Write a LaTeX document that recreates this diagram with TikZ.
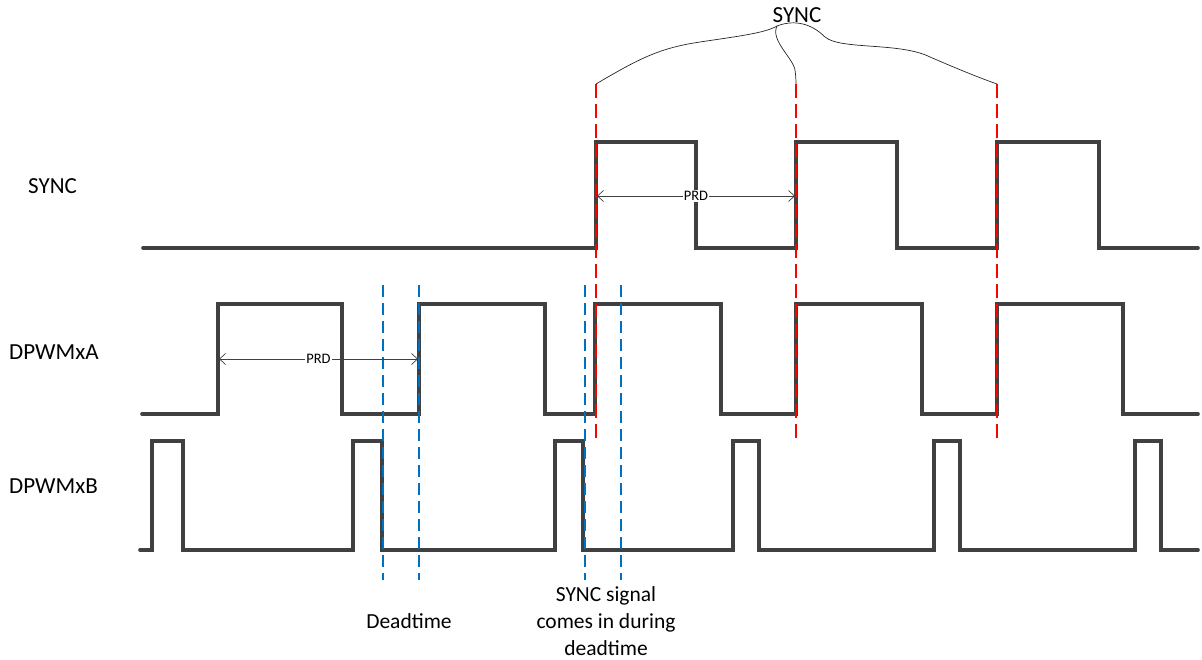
\documentclass[tikz,border=0pt]{standalone}
\usepackage{fontspec}
\setmainfont{Carlito}
\usetikzlibrary{arrows.meta}
\definecolor{wavecol}{HTML}{404040}
\definecolor{syncred}{HTML}{FF0000}
\definecolor{dtblue}{HTML}{0070C0}
\begin{document}
\begin{tikzpicture}[x=1pt,y=-1pt,
  wave/.style={draw=wavecol,line width=3.6pt,line join=miter,line cap=round},
  reddash/.style={draw=syncred,line width=1.6pt,dash pattern=on 14pt off 6pt},
  bluedash/.style={draw=dtblue,line width=1.6pt,dash pattern=on 12pt off 6pt},
  prdarrow/.style={draw=black!75,line width=0.7pt,{Straight Barb[length=6pt,width=11pt]}-{Straight Barb[length=6pt,width=11pt]}},
  prdlabel/.style={fill=white,inner sep=1pt,font=\fontsize{14.5}{16}\selectfont},
  siglabel/.style={anchor=west,inner sep=0pt,font=\fontsize{23}{27}\selectfont},
  note/.style={align=center,inner sep=0pt,font=\fontsize{21.5}{27}\selectfont},
  bracecurve/.style={draw=black!85,line width=0.7pt}]
\useasboundingbox (0,0) rectangle (1202,660);

% signal names
\node[siglabel] (lsync) at (28,186) {SYNC};
\node[siglabel] (lpwma) at (9,352) {DPWMxA};
\node[siglabel] (lpwmb) at (9,486) {DPWMxB};

% waveforms
\draw[wave] (143,248) -- (596,248) -- (596,142) -- (696,142) -- (696,248) -- (796,248) -- (796,142) -- (897,142) -- (897,248) -- (997,248) -- (997,142) -- (1099,142) -- (1099,248) -- (1198,248);
\draw[wave] (142,414) -- (218,414) -- (218,304) -- (342,304) -- (342,414) -- (419,414) -- (419,304) -- (545,304) -- (545,414) -- (595,414) -- (595,304) -- (721,304) -- (721,414) -- (796,414) -- (796,304) -- (922,304) -- (922,414) -- (997,414) -- (997,304) -- (1123,304) -- (1123,414) -- (1198,414);
\draw[wave] (140,550) -- (152,550) -- (152,441) -- (183,441) -- (183,550) -- (353,550) -- (353,441) -- (382,441) -- (382,550) -- (555,550) -- (555,441) -- (583,441) -- (583,550) -- (733,550) -- (733,441) -- (759,441) -- (759,550) -- (934,550) -- (934,441) -- (960,441) -- (960,550) -- (1135,550) -- (1135,441) -- (1161,441) -- (1161,550) -- (1198,550);

% SYNC markers (red)
\coordinate (r1t) at (596,84);  \coordinate (r1b) at (596,438);
\coordinate (r2t) at (796,84);  \coordinate (r2b) at (796,438);
\coordinate (r3t) at (997,84);  \coordinate (r3b) at (997,438);
\draw[reddash] (r1t) -- (r1b);
\draw[reddash] (r2t) -- (r2b);
\draw[reddash] (r3t) -- (r3b);

% deadtime markers (blue)
\coordinate (b1t) at (383,285); \coordinate (b1b) at (383,580);
\coordinate (b2t) at (419,285); \coordinate (b2b) at (419,580);
\coordinate (b3t) at (585,285); \coordinate (b3b) at (585,580);
\coordinate (b4t) at (621,285); \coordinate (b4b) at (621,580);
\draw[bluedash] (b1t) -- (b1b);
\draw[bluedash] (b2t) -- (b2b);
\draw[bluedash] (b3t) -- (b3b);
\draw[bluedash] (b4t) -- (b4b);

% PRD arrows
\coordinate (pa1) at (597,196); \coordinate (pa2) at (795,196);
\draw[prdarrow] (pa1) -- node[prdlabel] {PRD} (pa2);
\coordinate (pb1) at (219,359); \coordinate (pb2) at (418,359);
\draw[prdarrow] (pb1) -- node[prdlabel] {PRD} (pb2);

% SYNC brace
\node[font=\fontsize{23}{27}\selectfont,inner sep=0pt] (topsync) at (797,15) {SYNC};
\coordinate (tip) at (777,26);
\draw[bracecurve] (r1t) .. controls (640,58) and (660,48) .. (700,42) .. controls (740,36) and (765,33) .. (tip);
\draw[bracecurve] (tip) .. controls (795,19) and (812,24) .. (825,37) .. controls (840,50) and (900,42) .. (930,57) .. controls (960,70) and (980,78) .. (r3t);
\draw[bracecurve] (tip) .. controls (770,40) and (793,58) .. (795,70) .. controls (796,78) and (796,82) .. (r2t);

% notes
\node[note] (ndead) at (409,621) {Deadtime};
\node[note] (nsync) at (606,621) {SYNC signal\\comes in during\\deadtime};
\end{tikzpicture}
\end{document}
